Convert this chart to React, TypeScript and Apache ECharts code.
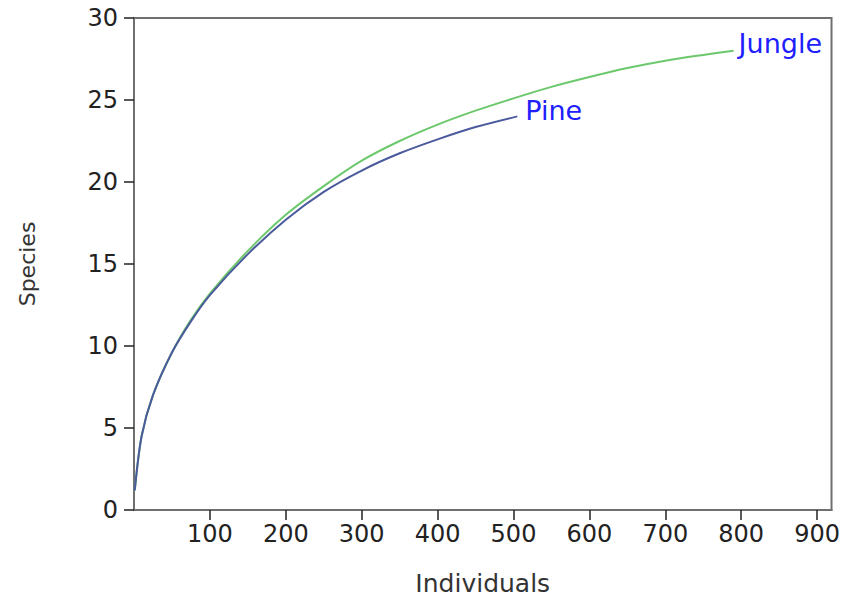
import React, { useEffect, useRef } from "react";
import * as echarts from "echarts";

const jungleX = [1, 10, 25, 50, 75, 100, 150, 200, 250, 300, 350, 400, 450, 500, 550, 600, 650, 700, 750, 790];
const jungleY = [1.2, 4.5, 7, 9.6, 11.6, 13.2, 15.8, 18.0, 19.75, 21.3, 22.5, 23.5, 24.35, 25.1, 25.8, 26.4, 26.95, 27.4, 27.75, 28.0];
const pineX = [1, 10, 25, 50, 75, 100, 150, 200, 250, 300, 350, 400, 450, 505];
const pineY = [1.2, 4.5, 7, 9.6, 11.5, 13.1, 15.6, 17.7, 19.4, 20.7, 21.75, 22.6, 23.35, 24.0];
const xTicks = [100, 200, 300, 400, 500, 600, 700, 800, 900];
const yTicks = [0, 5, 10, 15, 20, 25, 30];

const FONT = "DejaVu Sans";

export default function App() {
  const ref = useRef<HTMLDivElement>(null);
  useEffect(() => {
    if (!ref.current) return;
    const chart = echarts.init(ref.current, undefined, { renderer: "svg" });
    const mk = (xs: number[], ys: number[]) => xs.map((x, i) => [x, ys[i]]);
    chart.setOption({
      animation: false,
      grid: {
        left: 134, right: 10, top: 18, bottom: 89,
        show: true, borderColor: "#707070", borderWidth: 2, backgroundColor: "transparent",
      },
      xAxis: {
        type: "value", min: 0, max: 919,
        name: "Individuals", nameLocation: "middle", nameGap: 61,
        nameTextStyle: { fontFamily: FONT, fontSize: 25, color: "#333" },
        axisLine: { show: true, lineStyle: { color: "#707070", width: 2 } },
        axisTick: { show: true, length: 10, lineStyle: { color: "#222", width: 1.5 }, customValues: xTicks },
        axisLabel: { fontFamily: FONT, fontSize: 24, color: "#222", margin: 12, customValues: xTicks },
        splitLine: { show: false },
      },
      yAxis: {
        type: "value", min: 0, max: 30, interval: 5,
        name: "Species", nameLocation: "middle", nameGap: 96,
        nameTextStyle: { fontFamily: FONT, fontSize: 22, color: "#333" },
        axisLine: { show: true, lineStyle: { color: "#707070", width: 2 } },
        axisTick: { show: true, length: 10, lineStyle: { color: "#222", width: 1.5 }, customValues: yTicks },
        axisLabel: { fontFamily: FONT, fontSize: 24, color: "#222", margin: 16, customValues: yTicks },
        splitLine: { show: false },
      },
      series: [
        {
          name: "Jungle", type: "line", data: mk(jungleX, jungleY), smooth: 0.3, showSymbol: false, symbol: "none",
          lineStyle: { color: "#6cc86c", width: 2 }, itemStyle: { color: "#6cc86c" },
          endLabel: { show: true, formatter: "{a}", color: "#2020ff", fontFamily: FONT, fontSize: 27, distance: 5, offset: [0, -7] },
        },
        {
          name: "Pine", type: "line", data: mk(pineX, pineY), smooth: 0.3, showSymbol: false, symbol: "none",
          lineStyle: { color: "#4a5a9c", width: 2 }, itemStyle: { color: "#4a5a9c" },
          endLabel: { show: true, formatter: "{a}", color: "#2020ff", fontFamily: FONT, fontSize: 27, distance: 8, offset: [0, -6] },
        },
      ],
    });
    return () => chart.dispose();
  }, []);
  return <div ref={ref} style={{ width: 843, height: 601, position: "absolute", left: 0, top: 0 }} />;
}
